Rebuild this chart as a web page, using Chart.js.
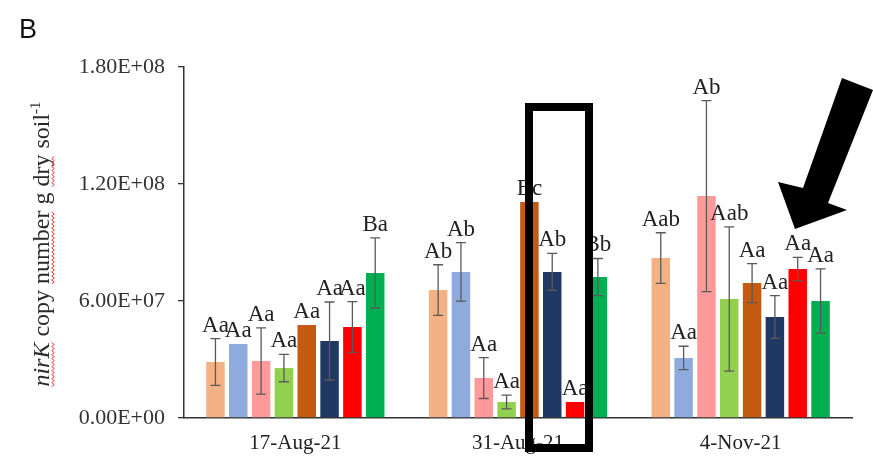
<!DOCTYPE html>
<html>
<head>
<meta charset="utf-8">
<script src="https://cdn.jsdelivr.net/npm/chart.js@4/dist/chart.umd.min.js"></script>
<style>
  html, body { margin: 0; padding: 0; background: #fff; }
  #wrap { width: 873px; height: 458px; }
</style>
</head>
<body>
<div id="wrap"><canvas id="nirkChart" width="873" height="458"></canvas></div>
<script>
const dates = ["17-Aug-21", "31-Aug-21", "4-Nov-21"];
const yTicks = [0, 6e7, 1.2e8, 1.8e8];

// one array per treatment (bar colour), values per date
const peach = [2.87e7, 6.56e7, 8.2e7];
const lightBlue = [3.79e7, 7.49e7, 3.08e7];
const pink = [2.92e7, 2.05e7, 1.138e8];
const lightGreen = [2.56e7, 8.2e6, 6.1e7];
const brown = [4.77e7, 1.108e8, 6.92e7];
const navy = [3.95e7, 7.49e7, 5.18e7];
const red = [4.67e7, 8.2e6, 7.64e7];
const green = [7.44e7, 7.23e7, 6.0e7];

const peachErr = [1.2e7, 1.3e7, 1.3e7];
const lightBlueErr = [0, 1.5e7, 6e6];
const pinkErr = [1.7e7, 1.05e7, 4.9e7];
const lightGreenErr = [7e6, 3.5e6, 3.7e7];
const brownErr = [0, 0, 1.0e7];
const navyErr = [2.0e7, 9.5e6, 1.1e7];
const redErr = [1.3e7, 0, 6e6];
const greenErr = [1.8e7, 9.5e6, 1.65e7];

const peachTag = ["Aa", "Ab", "Aab"];
const lightBlueTag = ["Aa", "Ab", "Aa"];
const pinkTag = ["Aa", "Aa", "Ab"];
const lightGreenTag = ["Aa", "Aa", "Aab"];
const brownTag = ["Aa", "Bc", "Aa"];
const navyTag = ["Aa", "Ab", "Aa"];
const redTag = ["Aa", "Aa", "Aa"];
const greenTag = ["Ba", "Bb", "Aa"];

const series = [
  { data: peach, err: peachErr, tags: peachTag, color: "#F4B183" },
  { data: lightBlue, err: lightBlueErr, tags: lightBlueTag, color: "#8FAADC" },
  { data: pink, err: pinkErr, tags: pinkTag, color: "#FF9A9A" },
  { data: lightGreen, err: lightGreenErr, tags: lightGreenTag, color: "#92D050" },
  { data: brown, err: brownErr, tags: brownTag, color: "#C55A11" },
  { data: navy, err: navyErr, tags: navyTag, color: "#203864" },
  { data: red, err: redErr, tags: redTag, color: "#FF0000" },
  { data: green, err: greenErr, tags: greenTag, color: "#00B050" },
];

const serif = "'Liberation Serif', 'Times New Roman', serif";

function sciLabel(v) {
  const parts = Number(v).toExponential(2).toUpperCase().split("E");
  const sign = parts[1][0];
  let exp = parts[1].slice(1);
  if (exp.length < 2) exp = "0" + exp;
  return parts[0] + "E" + sign + exp;
}

// error bars + letter labels
const errorBarsPlugin = {
  id: "errorBars",
  afterDatasetsDraw(chart) {
    const ctx = chart.ctx;
    const y = chart.scales.y;
    ctx.save();
    series.forEach((s, i) => {
      const meta = chart.getDatasetMeta(i);
      meta.data.forEach((bar, j) => {
        const val = s.data[j];
        const e = s.err[j];
        const top = y.getPixelForValue(val + e);
        if (e > 0) {
          const low = y.getPixelForValue(val - e);
          ctx.strokeStyle = "#5a5a5a";
          ctx.lineWidth = 1.3;
          ctx.beginPath();
          ctx.moveTo(bar.x, top);
          ctx.lineTo(bar.x, low);
          ctx.moveTo(bar.x - 5, top);
          ctx.lineTo(bar.x + 5, top);
          ctx.moveTo(bar.x - 5, low);
          ctx.lineTo(bar.x + 5, low);
          ctx.stroke();
        }
        ctx.fillStyle = "#222";
        ctx.font = "23px " + serif;
        ctx.textAlign = "center";
        ctx.textBaseline = "alphabetic";
        ctx.fillText(s.tags[j], bar.x, top - 7);
      });
    });
    ctx.restore();
  },
};

function squiggle(ctx, x0, x1, yy) {
  ctx.beginPath();
  for (let x = x0, k = 0; x <= x1; x += 2, k++) {
    const yv = yy + (k % 2 ? 1.3 : -1.3);
    if (k === 0) ctx.moveTo(x, yv); else ctx.lineTo(x, yv);
  }
  ctx.stroke();
}

// y title, panel letter and the black marks drawn on the figure
const decorPlugin = {
  id: "decor",
  afterDraw(chart) {
    const ctx = chart.ctx;
    ctx.save();

    ctx.fillStyle = "#111";
    ctx.font = "27px 'Liberation Sans', Arial, sans-serif";
    ctx.textAlign = "left";
    ctx.textBaseline = "alphabetic";
    ctx.fillText("B", 19, 38);

    // rotated y title
    const pieces = [
      { t: "nirK", italic: true, wavy: true },
      { t: " copy " },
      { t: "number", wavy: true },
      { t: " g " },
      { t: "dry", wavy: true },
      { t: " soil" },
      { t: "-1", sup: true },
    ];
    const fontFor = (p) =>
      (p.italic ? "italic " : "") + (p.sup ? "15px " : "24px ") + serif;
    let total = 0;
    pieces.forEach((p) => {
      ctx.font = fontFor(p);
      p.w = ctx.measureText(p.t).width;
      total += p.w;
    });
    ctx.translate(42, 244);
    ctx.rotate(-Math.PI / 2);
    let x = -total / 2;
    ctx.textAlign = "left";
    pieces.forEach((p) => {
      ctx.font = fontFor(p);
      ctx.fillStyle = "#2a2a2a";
      ctx.fillText(p.t, x, p.sup ? -2 : 7);
      if (p.wavy) {
        ctx.strokeStyle = "#e04040";
        ctx.lineWidth = 1;
        squiggle(ctx, x, x + p.w, 11);
      }
      x += p.w;
    });
    ctx.setTransform(1, 0, 0, 1, 0, 0);

    // highlight box around 31-Aug navy/red bars
    ctx.strokeStyle = "#000";
    ctx.lineWidth = 8;
    ctx.strokeRect(529, 107, 60, 341);

    // arrow pointing at 4-Nov red bar
    ctx.fillStyle = "#000";
    ctx.beginPath();
    ctx.moveTo(842, 78);
    ctx.lineTo(873, 90);
    ctx.lineTo(828, 203);
    ctx.lineTo(847, 210);
    ctx.lineTo(795, 229);
    ctx.lineTo(778, 182);
    ctx.lineTo(803, 188);
    ctx.closePath();
    ctx.fill();

    ctx.restore();
  },
};

const ctx = document.getElementById("nirkChart").getContext("2d");
new Chart(ctx, {
  type: "bar",
  data: {
    labels: dates,
    datasets: series.map((s) => ({
      data: s.data,
      backgroundColor: s.color,
      borderWidth: 0,
      categoryPercentage: 0.82,
      barPercentage: 0.81,
    })),
  },
  options: {
    responsive: false,
    animation: false,
    devicePixelRatio: 1,
    layout: { padding: { top: 67, right: 21, bottom: 0, left: 0 } },
    plugins: {
      legend: { display: false },
      tooltip: { enabled: false },
    },
    scales: {
      x: {
        grid: { display: false },
        border: { display: true, color: "#333", width: 1.5 },
        ticks: {
          color: "#222",
          font: { family: serif, size: 21 },
          padding: 5,
          maxRotation: 0,
        },
        afterFit: (scale) => { scale.height = 40; },
      },
      y: {
        min: 0,
        max: 1.8e8,
        afterBuildTicks: (scale) => {
          scale.ticks = yTicks.map((v) => ({ value: v }));
        },
        grid: {
          drawOnChartArea: false,
          drawTicks: true,
          tickLength: 6,
          color: "#333",
          lineWidth: 1.3,
        },
        border: { display: true, color: "#333", width: 1.5 },
        ticks: {
          color: "#333",
          font: { family: serif, size: 22 },
          padding: 13,
          callback: (v) => sciLabel(v),
        },
        afterFit: (scale) => { scale.width = 184; },
      },
    },
  },
  plugins: [errorBarsPlugin, decorPlugin],
});
</script>
</body>
</html>
